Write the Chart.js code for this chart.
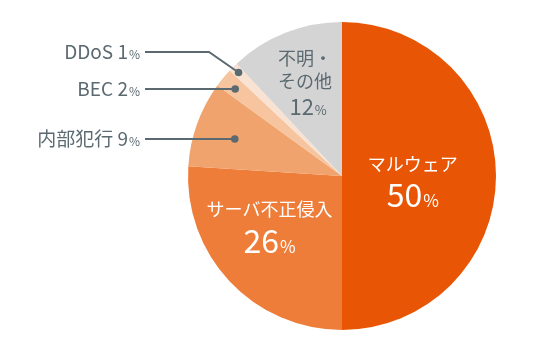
<!DOCTYPE html>
<html><head><meta charset="utf-8">
<script src="https://cdn.jsdelivr.net/npm/chart.js@4.4.1/dist/chart.umd.min.js"></script>
<style>html,body{margin:0;padding:0;background:#fff;}#wrap{width:540px;height:360px;}</style>
</head><body><div id="wrap"><canvas id="c" width="540" height="360"></canvas></div>
<script>
const categories = ["マルウェア", "サーバ不正侵入", "内部犯行", "BEC", "DDoS", "不明・その他"];
const values = [50, 26, 9, 2, 1, 12];
const colors = ["#E85504", "#EE7D3A", "#F0A36C", "#F6C49E", "#F9E2D2", "#D4D4D4"];

const FONT = '"Noto Sans CJK JP", "Noto Sans", sans-serif';
const LINE = "#5B6A70";

function drawPct(ctx, num, x, y, bigSize, smallSize, color, align) {
  ctx.fillStyle = color;
  ctx.font = bigSize + "px " + FONT;
  const w1 = ctx.measureText(num).width;
  ctx.font = smallSize + "px " + FONT;
  const w2 = ctx.measureText("%").width;
  const total = w1 + w2 + 1;
  let sx = align === "right" ? x - total : x - total / 2;
  ctx.textAlign = "left";
  ctx.textBaseline = "alphabetic";
  ctx.font = bigSize + "px " + FONT;
  ctx.fillText(num, sx, y);
  ctx.font = smallSize + "px " + FONT;
  ctx.fillText("%", sx + w1 + 1, y);
}

const labelPlugin = {
  id: "labels",
  afterDatasetsDraw(chart) {
    const ctx = chart.ctx;
    const meta = chart.getDatasetMeta(0);
    const a0 = meta.data[0];
    const cx = a0.x, cy = a0.y, R = a0.outerRadius;
    ctx.save();
    // inside labels
    ctx.textAlign = "center";
    ctx.textBaseline = "alphabetic";
    ctx.fillStyle = "#fff";
    ctx.font = "18px " + FONT;
    ctx.fillText(categories[0], cx + 0.46 * R, cy - 5);
    drawPct(ctx, String(values[0]), cx + 0.46 * R, cy + 31, 32, 17, "#fff", "center");
    ctx.fillStyle = "#fff";
    ctx.textAlign = "center";
    ctx.font = "18px " + FONT;
    ctx.fillText(categories[1], cx - 0.47 * R, cy + 40);
    drawPct(ctx, String(values[1]), cx - 0.47 * R, cy + 77, 32, 17, "#fff", "center");
    // gray slice label
    ctx.fillStyle = LINE;
    ctx.textAlign = "center";
    ctx.font = "18px " + FONT;
    ctx.fillText("不明・", cx - 0.24 * R, cy - 111);
    ctx.fillText("その他", cx - 0.24 * R, cy - 88);
    drawPct(ctx, String(values[5]), cx - 0.22 * R, cy - 61, 22, 13, LINE, "center");

    // outside labels with leaders
    const outs = [
      { i: 4, frac: 0.95, ty: 52, elbowX: 209 },
      { i: 3, frac: 0.90, ty: 89, elbowX: null },
      { i: 2, frac: 0.74, ty: 139, elbowX: null }
    ];
    const textRight = 140, lineStart = 145;
    outs.forEach(o => {
      const arc = meta.data[o.i];
      const mid = (arc.startAngle + arc.endAngle) / 2;
      const dx = cx + Math.cos(mid) * R * o.frac;
      const dy = cy + Math.sin(mid) * R * o.frac;
      ctx.strokeStyle = LINE;
      ctx.lineWidth = 2;
      ctx.beginPath();
      ctx.moveTo(lineStart, o.ty);
      if (o.elbowX) {
        ctx.lineTo(o.elbowX, o.ty);
        ctx.lineTo(dx, dy);
      } else {
        ctx.lineTo(dx, o.ty);
      }
      ctx.stroke();
      ctx.fillStyle = LINE;
      ctx.beginPath();
      ctx.arc(dx, o.elbowX ? dy : o.ty, 3.8, 0, Math.PI * 2);
      ctx.fill();
      // text
      ctx.font = "12px " + FONT;
      const wp = ctx.measureText("%").width;
      ctx.font = "19px " + FONT;
      const wn = ctx.measureText(String(values[o.i])).width;
      ctx.textAlign = "right";
      ctx.fillStyle = LINE;
      ctx.fillText(categories[o.i] + " ", textRight - wp - wn - 1, o.ty + 7);
      drawPct(ctx, String(values[o.i]), textRight, o.ty + 7, 19, 12, LINE, "right");
    });
    ctx.restore();
  }
};

new Chart(document.getElementById("c"), {
  type: "pie",
  data: {
    labels: categories,
    datasets: [{ data: values, backgroundColor: colors, borderWidth: 0 }]
  },
  options: {
    responsive: false,
    animation: false,
    layout: { padding: { left: 188, right: 44, top: 22, bottom: 30 } },
    plugins: { legend: { display: false }, tooltip: { enabled: false } }
  },
  plugins: [labelPlugin]
});
</script></body></html>
